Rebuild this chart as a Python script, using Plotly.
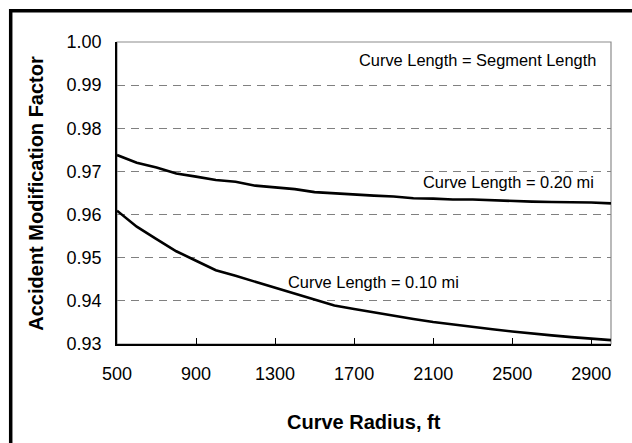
import plotly.graph_objects as go

radius_ft = [500, 600, 700, 800, 900, 1000, 1100, 1200, 1300, 1400, 1500, 1600, 1700,
             1800, 1900, 2000, 2100, 2200, 2300, 2400, 2500, 2600, 2700, 2800, 2900, 3000]

amf_020mi = [0.9738, 0.9720, 0.9709, 0.9695, 0.9688, 0.9680, 0.9676, 0.9667, 0.9663,
             0.9659, 0.9652, 0.9649, 0.9647, 0.9644, 0.9642, 0.9638, 0.9637, 0.9635,
             0.9635, 0.9633, 0.9632, 0.9630, 0.9629, 0.9629, 0.9628, 0.9626]

amf_010mi = [0.9609, 0.9572, 0.9543, 0.9515, 0.9493, 0.9471, 0.9458, 0.9444, 0.9430,
             0.9416, 0.9402, 0.9389, 0.9381, 0.9373, 0.9365, 0.9358, 0.9351, 0.9345,
             0.9339, 0.9334, 0.9329, 0.9324, 0.9320, 0.9316, 0.9312, 0.9309]

x_ticks = [500, 900, 1300, 1700, 2100, 2500, 2900]
y_ticks = [0.93, 0.94, 0.95, 0.96, 0.97, 0.98, 0.99, 1.00]

labels = ["Curve Length = Segment Length", "Curve Length = 0.20 mi", "Curve Length = 0.10 mi"]

FONT = "Arial, Liberation Sans, Helvetica, sans-serif"

fig = go.Figure()
fig.add_trace(go.Scatter(x=radius_ft, y=amf_020mi, mode="lines",
                         line=dict(color="black", width=2.6), showlegend=False,
                         hoverinfo="skip"))
fig.add_trace(go.Scatter(x=radius_ft, y=amf_010mi, mode="lines",
                         line=dict(color="black", width=2.6), showlegend=False,
                         hoverinfo="skip"))

W, H = 632, 443
L, R, T, B = 117, 21, 42, 99
pw, ph = W - L - R, H - T - B

def px_x(p):
    return (p - L) / pw

def px_y(p):
    return (H - B - p) / ph

fig.update_layout(
    width=W, height=H,
    margin=dict(l=L, r=R, t=T, b=B, pad=0),
    paper_bgcolor="white", plot_bgcolor="white",
    font=dict(family=FONT, color="black", size=18),
    showlegend=False,
    xaxis=dict(range=[500, 3000], tickvals=x_ticks, ticktext=[str(v) for v in x_ticks],
               ticks="inside", ticklen=6, tickwidth=1, tickcolor="black",
               showline=True, linecolor="black", linewidth=1.5,
               showgrid=False, zeroline=False, ticklabelstandoff=13,
               tickfont=dict(size=18, family=FONT)),
    yaxis=dict(range=[0.93, 1.00], tickvals=y_ticks, ticktext=[f"{v:.2f}" for v in y_ticks],
               ticks="", showline=True, linecolor="black", linewidth=1.5,
               showgrid=True, gridcolor="#808080", gridwidth=1, griddash="8px,6px",
               zeroline=False, ticklabelstandoff=10,
               tickfont=dict(size=18, family=FONT)),
    shapes=[
        dict(type="rect", xref="paper", yref="paper", x0=0, x1=1, y0=0, y1=1,
             line=dict(color="#8c8c8c", width=1.2), layer="below"),
        dict(type="rect", xref="paper", yref="paper",
             x0=px_x(10.7), x1=px_x(660), y0=px_y(10.7), y1=px_y(470),
             line=dict(color="black", width=3.5), layer="above"),
    ],
    annotations=[
        dict(text=labels[0], x=2934, y=0.99583, xref="x", yref="y",
             xanchor="right", yanchor="middle", showarrow=False,
             font=dict(size=16.4, family=FONT)),
        dict(text=labels[1], x=2924, y=0.96755, xref="x", yref="y",
             xanchor="right", yanchor="middle", showarrow=False,
             font=dict(size=16.4, family=FONT)),
        dict(text=labels[2], x=1355, y=0.94444, xref="x", yref="y",
             xanchor="left", yanchor="middle", showarrow=False,
             font=dict(size=16.4, family=FONT)),
        dict(text="<b>Curve Radius, ft</b>", x=0.5, y=px_y(421.7), xref="paper", yref="paper",
             xanchor="center", yanchor="middle", showarrow=False,
             font=dict(size=20, family=FONT)),
        dict(text="<b>Accident Modification Factor</b>", x=px_x(35.7), y=0.5,
             xref="paper", yref="paper", textangle=-90,
             xanchor="center", yanchor="middle", showarrow=False,
             font=dict(size=20, family=FONT)),
    ],
)

fig.write_html("out.html", config={"displayModeBar": False},
               post_script="document.body.style.margin='0px';")
